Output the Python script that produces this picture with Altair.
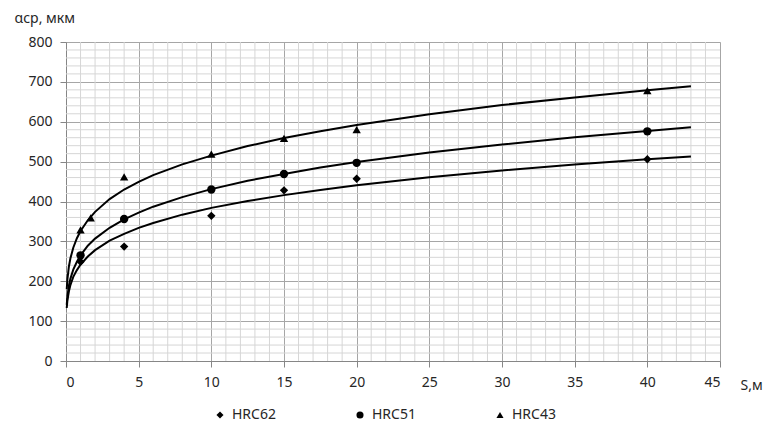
import altair as alt
import pandas as pd

# Measured points
x_pts = {
    "HRC62": [1, 4, 10, 15, 20, 40],
    "HRC51": [1, 4, 10, 15, 20, 40],
    "HRC43": [1, 1.7, 4, 10, 15, 20, 40],
}
y_pts = {
    "HRC62": [249, 287, 364, 428, 457, 506],
    "HRC51": [265, 356, 430, 469, 497, 576],
    "HRC43": [329, 359, 462, 519, 558, 580, 678],
}

# Trend curves
curve_x = [0.05, 0.1, 0.2, 0.3, 0.5, 0.75, 1, 1.5, 2, 3, 4, 5, 6, 8, 10,
           12.5, 15, 17.5, 20, 25, 30, 35, 40, 43]
curve_62 = [133, 153, 175, 190, 211, 228, 242, 262, 278, 302, 319, 334, 346,
            367, 384, 401, 416, 429, 441, 461, 478, 493, 506, 513]
curve_51 = [141, 163, 189, 206, 229, 249, 265, 289, 307, 334, 355, 372, 387,
            411, 431, 452, 469, 485, 499, 523, 543, 561, 577, 586]
curve_43 = [180, 206, 237, 257, 284, 308, 326, 353, 374, 406, 430, 449, 466,
            493, 515, 539, 559, 576, 592, 619, 642, 661, 679, 689]

series = ["HRC62", "HRC51", "HRC43"]
shapes = ["diamond", "circle", "triangle-up"]

x_major = [0, 5, 10, 15, 20, 25, 30, 35, 40, 45]
y_major = [0, 100, 200, 300, 400, 500, 600, 700, 800]
x_minor = [v for v in range(0, 46) if v % 5 != 0]
y_minor = [v for v in range(0, 801, 20) if v % 100 != 0]

pts = pd.DataFrame(
    [{"S": x, "a": y, "series": s} for s in series for x, y in zip(x_pts[s], y_pts[s])]
)
curves = pd.DataFrame(
    [{"S": x, "a": y, "series": s}
     for s, ys in zip(series, [curve_62, curve_51, curve_43])
     for x, y in zip(curve_x, ys)]
)

FONT = "Noto Sans"
MAJOR = "#a6a6a6"
MINOR = "#d6d6d6"
TXT = "#262626"

x_scale = alt.Scale(domain=[0, 45], nice=False, zero=True)
y_scale = alt.Scale(domain=[0, 800], nice=False)

x_axis = alt.Axis(
    values=x_major,
    grid=True,
    gridColor=MAJOR,
    gridWidth=1,
    tickColor="#868686",
    tickSize=6,
    domainColor="#868686",
    labelPadding=8,
    labelFontSize=14,
    labelFont=FONT,
    labelColor=TXT,
    labelOverlap=False,
    title="S,м",
    titleFont=FONT,
    titleFontSize=14,
    titleFontWeight="normal",
    titleColor=TXT,
    titleAngle=0,
    titleAlign="left",
    titleBaseline="alphabetic",
    titleX=674,
    titleY=28,
)
y_axis = alt.Axis(
    values=y_major,
    grid=True,
    gridColor=MAJOR,
    gridWidth=1,
    tickColor="#868686",
    tickSize=6,
    domainColor="#868686",
    labelPadding=8,
    labelFontSize=14,
    labelFont=FONT,
    labelColor=TXT,
    labelOverlap=False,
    title="αср, мкм",
    titleFont=FONT,
    titleFontSize=14,
    titleFontWeight="normal",
    titleColor=TXT,
    titleAngle=0,
    titleAlign="left",
    titleBaseline="alphabetic",
    titleX=-52,
    titleY=-20,
)

vgrid = alt.Chart(pd.DataFrame({"S": x_minor})).mark_rule(
    color=MINOR, strokeWidth=1
).encode(x=alt.X("S:Q", scale=x_scale, axis=x_axis))
hgrid = alt.Chart(pd.DataFrame({"a": y_minor})).mark_rule(
    color=MINOR, strokeWidth=1
).encode(y=alt.Y("a:Q", scale=y_scale, axis=y_axis))

lines = alt.Chart(curves).mark_line(color="black", strokeWidth=2).encode(
    x=alt.X("S:Q", scale=x_scale, axis=x_axis),
    y=alt.Y("a:Q", scale=y_scale, axis=y_axis),
    detail="series:N",
    order="S:Q",
)

points = alt.Chart(pts).mark_point(filled=True, color="black", opacity=1, size=70).encode(
    x=alt.X("S:Q", scale=x_scale, axis=x_axis),
    y=alt.Y("a:Q", scale=y_scale, axis=y_axis),
    shape=alt.Shape(
        "series:N",
        scale=alt.Scale(domain=series, range=shapes),
        legend=alt.Legend(
            title=None,
            orient="none",
            direction="horizontal",
            legendX=147,
            legendY=366,
            labelFont=FONT,
            labelFontSize=14,
            labelColor=TXT,
            symbolFillColor="black",
            symbolStrokeColor="black",
            symbolSize=50,
            columnPadding=77,
            labelOffset=5,
        ),
    ),
)

chart = (
    alt.layer(vgrid, hgrid, lines, points)
    .properties(
        width=654,
        height=319,
        autosize=alt.AutoSizeParams(type="none"),
        padding={"left": 58, "top": 34, "right": 43, "bottom": 64},
    )
    .configure_view(stroke=None)
    .configure(background="white")
)

chart.save("out.html", embed_options={"renderer": "svg", "actions": False})
